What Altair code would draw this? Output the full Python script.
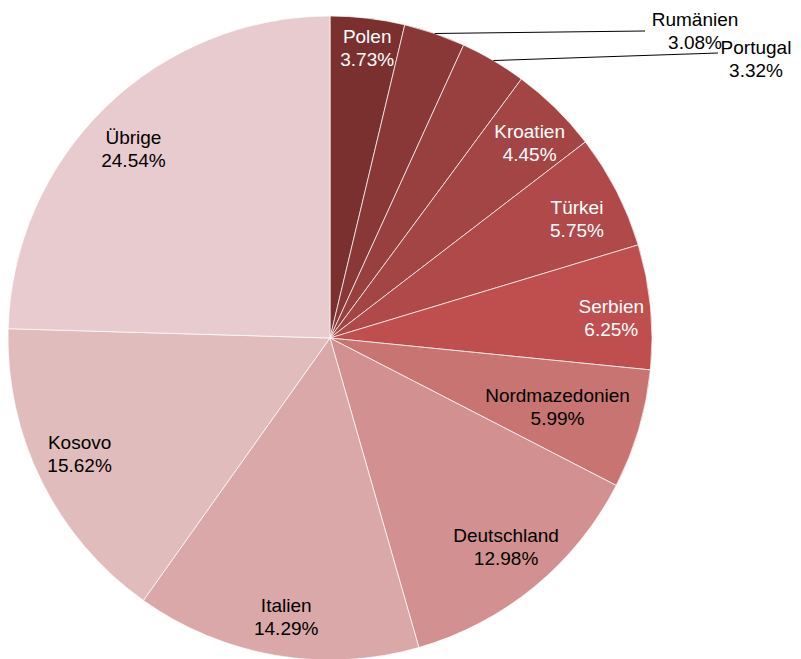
import numpy as np
import pandas as pd
import altair as alt

# ---- data ----
countries = ["Polen", "Rumänien", "Portugal", "Kroatien", "Türkei", "Serbien",
             "Nordmazedonien", "Deutschland", "Italien", "Kosovo", "Übrige"]
shares = [3.73, 3.08, 3.32, 4.45, 5.75, 6.25, 5.99, 12.98, 14.29, 15.62, 24.54]
colors = ["#7B3030", "#8A3737", "#983F3F", "#A44545", "#B04A4A", "#BF4F4F",
          "#C77472", "#D29190", "#DAA8A8", "#E0BCBD", "#E8CBCE"]
outside = ["Rumänien", "Portugal"]

# ---- layout ----
W, H = 785, 651
CX, CY, R = 322, 330, 322
FONT = "Liberation Sans"
FS, LH = 19, 23
# label placement inside slices: (radius px, angle shift in degrees)
label_pos = {"Polen": (292, 0.6), "Kroatien": (279, 1.2), "Türkei": (274, 1.5),
             "Serbien": (282, 1.5), "Nordmazedonien": (238, 0.6),
             "Deutschland": (274, -0.6), "Italien": (283, -0.8),
             "Kosovo": (276, 1.6), "Übrige": (272, -2.1)}
# leader line end and first-line centre for the outside labels, chart pixels
outer_end = {"Rumänien": (637, 23), "Portugal": (710, 45)}
outer_label = {"Rumänien": (687, 12), "Portugal": (748, 40)}

df = pd.DataFrame({
    "country": countries,
    "share": shares,
    "idx": list(range(len(countries))),
})
df["label"] = [
    "" if c in outside else f"{c}\n{s:.2f}%" for c, s in zip(countries, shares)
]
df["lr"] = [label_pos.get(c, (276, 0))[0] for c in countries]
df["ashift"] = [label_pos.get(c, (276, 0))[1] for c in countries]

# leader lines: start at the outer edge at each slice's mid angle
sh = np.array(shares)
mid = (np.cumsum(sh) - sh / 2) / sh.sum() * 2 * np.pi
rows = []
for i, c in enumerate(countries):
    if c in outside:
        rows.append({
            "country": c,
            "x": CX + R * np.sin(mid[i]),
            "y": CY - R * np.cos(mid[i]),
            "x2": outer_end[c][0],
            "y2": outer_end[c][1],
            "lx": outer_label[c][0],
            "ly": outer_label[c][1],
            "label": f"{c}\n{shares[i]:.2f}%",
        })
lines = pd.DataFrame(rows)

arcs = alt.Chart(df).mark_arc(
    outerRadius=R, stroke="white", strokeWidth=0.7
).encode(
    theta=alt.Theta("share:Q", stack=True),
    order=alt.Order("idx:Q", sort="ascending"),
    color=alt.Color("country:N", scale=alt.Scale(domain=countries, range=colors),
                    legend=None),
    x=alt.value(CX),
    y=alt.value(CY),
)

inner_text = alt.Chart(df).transform_window(
    cum="sum(share)", sort=[alt.SortField("idx", order="ascending")],
    frame=[None, 0]
).transform_joinaggregate(
    total="sum(share)"
).transform_calculate(
    mid_angle="(datum.cum - datum.share / 2) / datum.total * 2 * PI + datum.ashift * PI / 180"
).mark_text(
    font=FONT, fontSize=FS, lineHeight=LH, lineBreak="\n",
    align="center", baseline="middle", dy=-LH / 2
).encode(
    theta=alt.Theta("mid_angle:Q", scale=None),
    radius=alt.Radius("lr:Q", scale=None),
    text="label:N",
    color=alt.condition("datum.idx <= 5", alt.value("white"), alt.value("black")),
    x=alt.value(CX),
    y=alt.value(CY),
)

xs = alt.Scale(domain=[0, W], range=[0, W])
ys = alt.Scale(domain=[0, H], range=[0, H])

rules = alt.Chart(lines).mark_rule(color="black", strokeWidth=1).encode(
    x=alt.X("x:Q", scale=xs, axis=None),
    y=alt.Y("y:Q", scale=ys, axis=None),
    x2="x2:Q",
    y2="y2:Q",
)

outer_text = alt.Chart(lines).mark_text(
    font=FONT, fontSize=FS, lineHeight=LH, lineBreak="\n",
    align="center", baseline="middle", color="black"
).encode(
    x=alt.X("lx:Q", scale=xs, axis=None),
    y=alt.Y("ly:Q", scale=ys, axis=None),
    text="label:N",
)

chart = alt.layer(arcs, inner_text, rules, outer_text).resolve_scale(
    theta="independent"
).properties(
    width=W, height=H, padding=0, autosize=alt.AutoSizeParams(type="none")
).configure_view(stroke=None)

chart.save("out.html", embed_options={"renderer": "svg", "actions": False})
